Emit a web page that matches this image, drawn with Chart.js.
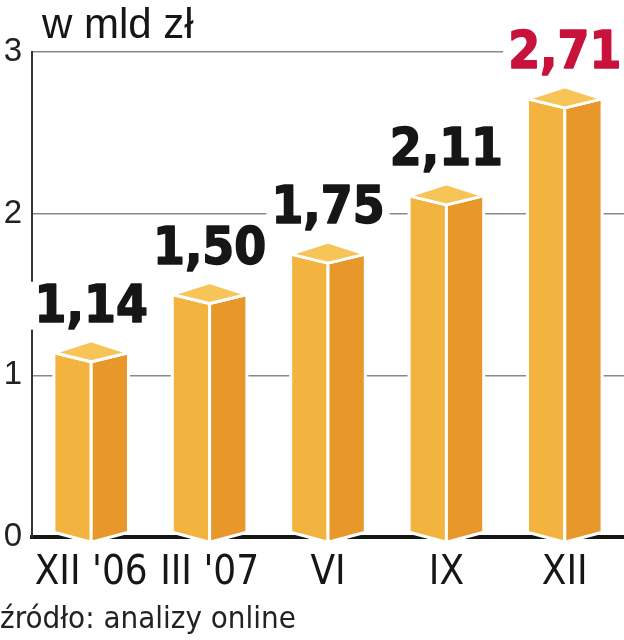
<!DOCTYPE html>
<html lang="pl">
<head>
  <meta charset="UTF-8">
  <title>w mld zł</title>
  <script src="https://cdn.jsdelivr.net/npm/chart.js"></script>
  <style>
    body {
      margin: 0;
      padding: 0;
      background: #fff;
    }
    .chart-box {
      width: 624px;
      height: 640px;
      position: relative;
    }
  </style>
</head>
<body>
  <div class="chart-box">
    <canvas id="chart"></canvas>
  </div>

  <script>
    // data
    const categories = ["XII '06", "III '07", "VI", "IX", "XII"];
    const values = [1.14, 1.50, 1.75, 2.11, 2.71];
    const valueLabels = ['1,14', '1,50', '1,75', '2,11', '2,71'];
    const labelColors = ['#161616', '#161616', '#161616', '#161616', '#c8123c'];
    const yTicks = [0, 1, 2, 3];
    const unitText = 'w mld zł';
    const sourceText = 'źródło: analizy online';

    // draws the prism bars on top of the (invisible) native bars
    const prismBars = {
      id: 'prismBars',
      afterDatasetsDraw(chart) {
        const ctx = chart.ctx;
        const meta = chart.getDatasetMeta(0);
        meta.data.forEach((bar, i) => {
          const p = bar.getProps(['x', 'y', 'base', 'width'], true);
          const l = p.x - p.width / 2;
          const r = p.x + p.width / 2;
          const up = 12, down = 9;

          ctx.save();
          ctx.lineJoin = 'round';
          ctx.strokeStyle = '#fff';
          ctx.lineWidth = 3;

          // left face
          ctx.beginPath();
          ctx.moveTo(l, p.y);
          ctx.lineTo(p.x, p.y + down);
          ctx.lineTo(p.x, p.base + 6);
          ctx.lineTo(l, p.base - 4);
          ctx.closePath();
          ctx.fillStyle = '#f2b33f';
          ctx.fill();
          ctx.stroke();

          // right face
          ctx.beginPath();
          ctx.moveTo(p.x, p.y + down);
          ctx.lineTo(r, p.y);
          ctx.lineTo(r, p.base - 4);
          ctx.lineTo(p.x, p.base + 6);
          ctx.closePath();
          ctx.fillStyle = '#e8982b';
          ctx.fill();
          ctx.stroke();

          // top
          ctx.beginPath();
          ctx.moveTo(l, p.y);
          ctx.lineTo(p.x, p.y - up);
          ctx.lineTo(r, p.y);
          ctx.lineTo(p.x, p.y + down);
          ctx.closePath();
          ctx.fillStyle = '#f6c457';
          ctx.fill();
          ctx.stroke();

          // value label with white patch behind it
          ctx.font = 'bold 51px "DejaVu Sans Condensed", "DejaVu Sans"';
          ctx.textAlign = 'center';
          ctx.textBaseline = 'alphabetic';
          const ly = p.y - 31;
          const tw = ctx.measureText(valueLabels[i]).width;
          ctx.fillStyle = '#fff';
          ctx.fillRect(p.x - tw / 2 - 5, ly - 40, tw + 10, 48);
          ctx.fillStyle = labelColors[i];
          ctx.strokeStyle = labelColors[i];
          ctx.lineWidth = 1.5;
          ctx.fillText(valueLabels[i], p.x, ly);
          ctx.strokeText(valueLabels[i], p.x, ly);
          ctx.restore();
        });
      }
    };

    // unit caption and source line
    const captions = {
      id: 'captions',
      afterDraw(chart) {
        const ctx = chart.ctx;
        ctx.save();
        ctx.fillStyle = '#161616';
        ctx.textAlign = 'left';
        ctx.textBaseline = 'alphabetic';
        ctx.font = '42px "Liberation Sans", Arial';
        ctx.fillText(unitText, 42, 38);
        ctx.font = '31px "DejaVu Sans Condensed", "DejaVu Sans"';
        ctx.fillStyle = '#222';
        ctx.fillText(sourceText, 0, 628);
        ctx.restore();
      }
    };

    const chart = new Chart(document.getElementById('chart'), {
      type: 'bar',
      data: {
        labels: categories,
        datasets: [{
          data: values,
          backgroundColor: 'rgba(0,0,0,0)',
          borderWidth: 0,
          barPercentage: 0.63,
          categoryPercentage: 1
        }]
      },
      options: {
        responsive: true,
        maintainAspectRatio: false,
        animation: false,
        layout: { padding: { top: 52, right: 0, bottom: 0, left: 0 } },
        plugins: {
          legend: { display: false },
          tooltip: { enabled: false }
        },
        scales: {
          x: {
            grid: { display: false, drawTicks: false },
            border: { display: true, color: '#161616', width: 4 },
            ticks: {
              color: '#161616',
              font: { family: '"DejaVu Sans Condensed", "DejaVu Sans"', size: 40 },
              padding: 13,
              maxRotation: 0,
              autoSkip: false
            },
            afterFit: s => { s.height = 103; }
          },
          y: {
            min: 0,
            max: 3,
            afterBuildTicks: s => { s.ticks = yTicks.map(v => ({ value: v })); },
            ticks: {
              color: '#222',
              font: { family: '"Liberation Sans Narrow", "Liberation Sans"', size: 33 },
              padding: 10
            },
            grid: {
              color: c => c.tick && c.tick.value === 0 ? 'rgba(0,0,0,0)' : '#8a8a8a',
              lineWidth: 1.5,
              drawTicks: false
            },
            border: { color: '#333', width: 2 },
            afterFit: s => { s.width = 32; }
          }
        }
      },
      plugins: [prismBars, captions]
    });
  </script>
</body>
</html>
